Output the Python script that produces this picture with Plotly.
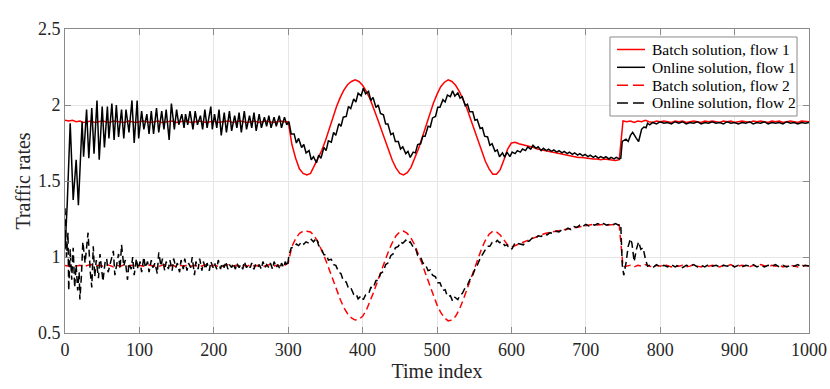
import plotly.graph_objects as go

# ---------------- data ----------------
time_batch = list(range(0, 1001, 5))

batch_flow1 = [
    # 0 - 295
    1.90, 1.895, 1.90, 1.89, 1.895, 1.885, 1.89, 1.895, 1.885, 1.89,
    1.895, 1.89, 1.885, 1.895, 1.89, 1.89, 1.885, 1.895, 1.89, 1.885,
    1.89, 1.895, 1.89, 1.885, 1.89, 1.895, 1.885, 1.89, 1.89, 1.895,
    1.885, 1.89, 1.895, 1.89, 1.885, 1.89, 1.895, 1.89, 1.885, 1.89,
    1.895, 1.885, 1.89, 1.89, 1.895, 1.885, 1.89, 1.895, 1.89, 1.885,
    1.89, 1.895, 1.885, 1.89, 1.895, 1.89, 1.885, 1.89, 1.895, 1.89,
    # 300 - 600
    1.89, 1.74, 1.65, 1.58, 1.55, 1.54, 1.55, 1.60, 1.645, 1.70,
    1.765, 1.84, 1.92, 1.99, 2.05, 2.10, 2.135, 2.155, 2.165, 2.155,
    2.13, 2.09, 2.04, 1.98, 1.91, 1.84, 1.77, 1.70, 1.635, 1.585,
    1.55, 1.54, 1.555, 1.59, 1.645, 1.71, 1.785, 1.86, 1.94, 2.01,
    2.07, 2.12, 2.15, 2.165, 2.155, 2.13, 2.09, 2.04, 1.98, 1.91,
    1.84, 1.765, 1.695, 1.63, 1.58, 1.545, 1.545, 1.575, 1.64, 1.71,
    1.75,
    # 605 - 745
    1.755, 1.745, 1.74, 1.735, 1.725, 1.72, 1.71, 1.705, 1.70, 1.69,
    1.685, 1.68, 1.675, 1.67, 1.67, 1.665, 1.66, 1.655, 1.655, 1.65,
    1.65, 1.645, 1.645, 1.64, 1.645, 1.64, 1.64, 1.635, 1.64,
    # 750 - 1000
    1.895, 1.89, 1.895, 1.885, 1.895, 1.89, 1.90, 1.89, 1.885, 1.895,
    1.89, 1.895, 1.89, 1.885, 1.895, 1.89, 1.895, 1.885, 1.89, 1.895,
    1.89, 1.885, 1.895, 1.89, 1.895, 1.89, 1.885, 1.895, 1.89, 1.895,
    1.885, 1.89, 1.895, 1.89, 1.885, 1.895, 1.89, 1.895, 1.89, 1.885,
    1.895, 1.89, 1.895, 1.885, 1.89, 1.895, 1.89, 1.885, 1.895, 1.89,
    1.89,
]

batch_flow2 = [
    # 0 - 295
    0.945, 0.94, 0.95, 0.94, 0.945, 0.935, 0.945, 0.95, 0.94, 0.945,
    0.94, 0.95, 0.945, 0.935, 0.945, 0.94, 0.95, 0.94, 0.945, 0.935,
    0.945, 0.94, 0.95, 0.945, 0.94, 0.935, 0.945, 0.95, 0.94, 0.945,
    0.935, 0.945, 0.94, 0.95, 0.94, 0.945, 0.935, 0.945, 0.95, 0.94,
    0.945, 0.94, 0.935, 0.945, 0.95, 0.94, 0.945, 0.935, 0.945, 0.94,
    0.95, 0.94, 0.945, 0.935, 0.945, 0.95, 0.94, 0.945, 0.94, 0.945,
    # 300 - 600
    0.96, 1.07, 1.12, 1.155, 1.17, 1.17, 1.165, 1.14, 1.10, 1.045,
    0.985, 0.92, 0.85, 0.78, 0.72, 0.665, 0.625, 0.60, 0.585, 0.59,
    0.61, 0.65, 0.705, 0.77, 0.84, 0.91, 0.98, 1.04, 1.095, 1.14,
    1.165, 1.17, 1.155, 1.125, 1.08, 1.02, 0.955, 0.885, 0.815, 0.745,
    0.685, 0.635, 0.60, 0.58, 0.585, 0.61, 0.655, 0.715, 0.785, 0.855,
    0.925, 0.995, 1.055, 1.11, 1.15, 1.17, 1.165, 1.145, 1.115, 1.08,
    1.065,
    # 605 - 745
    1.075, 1.09, 1.10, 1.11, 1.12, 1.13, 1.14, 1.15, 1.155, 1.16,
    1.165, 1.17, 1.175, 1.18, 1.185, 1.19, 1.195, 1.20, 1.205, 1.21,
    1.21, 1.215, 1.21, 1.215, 1.215, 1.21, 1.215, 1.215, 1.21,
    # 750 - 1000
    0.935, 0.94, 0.945, 0.935, 0.945, 0.94, 0.95, 0.94, 0.935, 0.945,
    0.94, 0.95, 0.94, 0.935, 0.945, 0.94, 0.945, 0.935, 0.94, 0.95,
    0.94, 0.935, 0.945, 0.94, 0.945, 0.94, 0.935, 0.945, 0.94, 0.95,
    0.935, 0.94, 0.945, 0.94, 0.935, 0.945, 0.94, 0.95, 0.94, 0.935,
    0.945, 0.94, 0.945, 0.935, 0.94, 0.945, 0.94, 0.935, 0.945, 0.94,
    0.94,
]

online_flow1 = [
    (0, 1.05), (3, 1.35), (7, 1.88), (11, 1.375), (15, 1.64), (18, 1.34), (23, 1.89),
    (25, 1.66), (29, 1.97), (32, 1.65), (36, 1.98), (39, 1.68), (43, 2.03), (46, 1.64),
    (50, 1.99), (53, 1.72), (57, 1.99), (59, 1.78), (63, 2.01), (66, 1.77), (69, 2.00),
    (72, 1.79), (76, 1.97), (79, 1.78), (82, 1.97), (86, 1.82), (90, 2.03), (93, 1.75),
    (97, 2.03), (99, 1.78), (103, 1.96), (106, 1.84), (110, 1.94), (113, 1.81), (116, 1.96),
    (119, 1.81), (123, 1.98), (126, 1.82), (130, 1.96), (133, 1.84), (136, 1.97), (140, 1.77),
    (143, 2.01), (147, 1.84), (150, 1.97), (153, 1.87), (157, 1.94), (160, 1.85), (162, 1.94),
    (165, 1.87), (168, 1.96), (172, 1.84), (175, 1.96), (178, 1.87), (182, 1.93), (185, 1.84),
    (188, 1.97), (191, 1.85), (196, 1.99), (198, 1.84), (201, 1.94), (204, 1.85),
    (207, 1.97), (210, 1.80), (214, 1.95), (217, 1.82), (221, 1.96), (224, 1.83), (228, 1.93),
    (231, 1.85), (234, 1.95), (237, 1.82), (241, 1.96), (244, 1.84), (248, 1.93), (251, 1.85),
    (254, 1.95), (257, 1.83), (261, 1.94), (264, 1.85), (268, 1.92), (271, 1.86), (274, 1.93),
    (277, 1.85), (281, 1.92), (284, 1.86), (288, 1.93), (291, 1.85), (295, 1.92), (298, 1.87),
    (301, 1.89), (304, 1.81), (308, 1.81), (311, 1.75), (314, 1.78), (318, 1.72), (321, 1.74),
    (324, 1.685), (328, 1.70), (331, 1.64), (334, 1.66), (338, 1.62), (341, 1.67), (344, 1.65),
    (348, 1.72), (351, 1.70), (354, 1.765), (358, 1.756), (361, 1.82), (364, 1.80), (368, 1.876),
    (371, 1.86), (374, 1.92), (378, 1.925), (381, 1.99), (384, 1.976), (388, 2.04), (391, 2.02),
    (394, 2.078), (398, 2.06), (401, 2.11), (404, 2.074), (408, 2.09), (411, 2.03), (414, 2.05),
    (418, 1.983), (421, 2.00), (424, 1.945), (428, 1.935), (431, 1.875), (434, 1.875), (438, 1.805),
    (441, 1.815), (444, 1.76), (448, 1.76), (451, 1.71), (454, 1.725), (458, 1.68), (461, 1.695),
    (464, 1.655), (468, 1.69), (471, 1.685), (474, 1.74), (478, 1.745), (481, 1.795), (484, 1.795),
    (488, 1.86), (491, 1.855), (494, 1.915), (498, 1.925), (501, 1.985), (504, 1.985), (508, 2.035),
    (511, 2.02), (514, 2.065), (518, 2.055), (521, 2.093), (524, 2.058), (528, 2.08), (531, 2.045),
    (534, 2.055), (538, 1.995), (541, 2.005), (544, 1.955), (548, 1.955), (551, 1.90), (554, 1.905),
    (558, 1.845), (561, 1.85), (564, 1.795), (568, 1.79), (571, 1.735), (574, 1.745), (578, 1.695),
    (581, 1.705), (584, 1.66), (588, 1.685), (591, 1.657), (594, 1.69), (598, 1.66),
    (601, 1.69), (605, 1.68), (608, 1.70), (612, 1.69), (615, 1.71), (619, 1.70), (622, 1.725),
    (626, 1.71), (629, 1.735), (633, 1.715), (636, 1.725), (640, 1.70), (643, 1.715), (647, 1.70),
    (650, 1.71), (654, 1.695), (657, 1.705), (661, 1.69), (664, 1.70), (668, 1.685), (671, 1.695),
    (675, 1.68), (678, 1.69), (682, 1.675), (685, 1.685), (689, 1.67), (692, 1.68), (696, 1.665),
    (699, 1.675), (703, 1.66), (706, 1.67), (710, 1.655), (713, 1.665), (717, 1.65), (720, 1.66),
    (724, 1.65), (727, 1.66), (731, 1.645), (734, 1.655), (738, 1.645), (741, 1.655), (745, 1.645),
    (747, 1.65), (749, 1.76), (754, 1.775), (757, 1.76), (760, 1.80), (763, 1.82), (768, 1.78),
    (771, 1.76), (775, 1.84), (778, 1.855), (781, 1.85), (783, 1.88), (786, 1.87), (790, 1.885),
    (795, 1.875), (800, 1.89), (805, 1.88), (810, 1.885), (815, 1.875), (820, 1.89), (825, 1.88),
    (830, 1.89), (835, 1.875), (840, 1.885), (845, 1.88), (850, 1.89), (855, 1.875), (860, 1.885),
    (865, 1.88), (870, 1.89), (875, 1.88), (880, 1.885), (885, 1.875), (890, 1.89), (895, 1.88),
    (900, 1.885), (905, 1.875), (910, 1.885), (915, 1.88), (920, 1.89), (925, 1.875), (930, 1.885),
    (935, 1.88), (940, 1.89), (945, 1.875), (950, 1.885), (955, 1.88), (960, 1.885), (965, 1.875),
    (970, 1.89), (975, 1.88), (980, 1.885), (985, 1.875), (990, 1.885), (995, 1.88), (1000, 1.885),
]

online_flow2 = [
    (0, 1.32), (2, 1.00), (4, 1.16), (5, 0.78), (7, 1.05), (9, 0.85), (11, 1.06), (13, 0.80),
    (15, 0.95), (17, 0.78), (19, 0.90), (20, 0.72), (22, 0.87), (24, 1.10), (27, 0.96), (29, 1.07),
    (31, 1.16), (34, 0.90), (36, 0.80), (38, 1.07), (40, 0.87), (42, 0.98), (45, 0.86), (47, 1.02),
    (49, 0.90), (51, 0.84), (54, 0.97), (56, 0.99), (58, 0.90), (61, 0.97), (63, 1.00), (65, 1.04),
    (67, 0.88), (70, 0.98), (72, 1.02), (74, 0.92), (76, 1.08), (79, 0.94), (81, 0.98), (84, 0.85),
    (86, 0.96), (89, 0.92), (91, 1.00), (93, 0.88), (96, 0.99), (98, 0.92), (101, 0.97), (103, 0.90),
    (106, 1.00), (108, 0.93), (111, 0.97), (113, 0.90), (116, 0.98), (118, 0.93), (121, 0.96),
    (124, 0.89), (126, 1.03), (129, 0.94), (131, 0.99), (134, 0.91), (136, 0.97), (139, 0.92),
    (141, 0.98), (144, 0.91), (146, 0.99), (149, 0.93), (151, 0.96), (154, 0.90), (156, 0.98),
    (159, 0.92), (161, 0.99), (164, 0.91), (166, 0.96), (169, 0.93), (171, 1.00), (174, 0.88),
    (176, 0.97), (179, 0.92), (181, 0.99), (184, 0.91), (186, 0.97), (189, 0.92), (191, 0.96),
    (194, 0.91), (196, 0.97), (199, 0.93), (201, 0.96), (204, 0.92), (206, 0.98), (209, 0.92),
    (211, 0.96), (214, 0.93), (216, 0.97), (219, 0.92), (221, 0.95), (224, 0.93), (226, 0.96),
    (229, 0.92), (231, 0.96), (234, 0.93), (236, 0.95), (239, 0.92), (241, 0.97), (244, 0.93),
    (246, 0.95), (249, 0.93), (251, 0.96), (254, 0.92), (256, 0.95), (259, 0.93), (261, 0.95),
    (264, 0.92), (266, 0.97), (269, 0.93), (271, 0.95), (274, 0.93), (276, 0.96), (279, 0.92),
    (281, 0.97), (284, 0.93), (286, 0.95), (289, 0.92), (291, 0.96), (294, 0.93), (296, 0.97),
    (299, 0.94),
    (301, 1.01), (304, 1.06), (308, 1.065), (311, 1.085), (314, 1.075), (318, 1.10), (321, 1.085),
    (324, 1.10), (328, 1.09), (331, 1.115), (334, 1.10), (338, 1.125), (341, 1.075), (344, 1.06),
    (348, 1.015), (351, 1.015), (354, 0.98), (358, 0.985), (361, 0.95), (364, 0.945), (368, 0.90),
    (371, 0.89), (374, 0.845), (378, 0.835), (381, 0.795), (384, 0.80), (388, 0.755), (391, 0.76),
    (394, 0.725), (398, 0.745), (401, 0.72), (404, 0.75), (408, 0.755), (411, 0.80), (414, 0.795),
    (418, 0.845), (421, 0.845), (424, 0.89), (428, 0.905), (431, 0.95), (434, 0.96), (438, 1.01),
    (441, 1.02), (444, 1.06), (448, 1.07), (451, 1.10), (454, 1.09), (458, 1.11), (461, 1.09),
    (464, 1.10), (468, 1.065), (471, 1.06), (474, 1.01), (478, 1.00), (481, 0.96), (484, 0.955),
    (488, 0.91), (491, 0.915), (494, 0.88), (498, 0.87), (501, 0.83), (504, 0.83), (508, 0.78),
    (511, 0.785), (514, 0.74), (518, 0.745), (521, 0.71), (524, 0.735), (528, 0.72), (531, 0.75),
    (534, 0.76), (538, 0.80), (541, 0.815), (544, 0.85), (548, 0.88), (551, 0.92), (554, 0.945),
    (558, 0.99), (561, 1.02), (564, 1.04), (568, 1.07), (571, 1.07), (574, 1.095), (578, 1.09),
    (581, 1.11), (584, 1.095), (588, 1.10), (591, 1.075), (594, 1.08), (598, 1.05), (601, 1.055),
    (605, 1.095), (608, 1.09), (612, 1.085), (616, 1.08), (620, 1.10), (624, 1.105), (628, 1.125),
    (632, 1.12), (636, 1.14), (640, 1.135), (644, 1.15), (648, 1.145), (652, 1.16), (656, 1.155),
    (660, 1.17), (664, 1.165), (668, 1.18), (672, 1.175), (676, 1.19), (680, 1.18), (684, 1.20),
    (688, 1.195), (692, 1.21), (696, 1.20), (700, 1.215), (704, 1.205), (708, 1.215), (712, 1.21),
    (716, 1.22), (720, 1.21), (724, 1.22), (728, 1.21), (732, 1.215), (736, 1.21), (740, 1.22),
    (744, 1.21), (747, 1.215), (749, 0.95), (751, 0.88), (754, 0.96), (757, 1.07), (760, 1.12),
    (762, 1.09), (765, 0.97), (768, 1.05), (771, 1.10), (774, 1.05), (777, 1.06), (780, 0.99),
    (783, 0.94), (785, 0.945), (790, 0.93), (795, 0.95), (800, 0.935), (805, 0.945), (810, 0.935),
    (815, 0.95), (820, 0.935), (825, 0.945), (830, 0.93), (835, 0.945), (840, 0.94), (845, 0.95),
    (850, 0.935), (855, 0.945), (860, 0.935), (865, 0.95), (870, 0.94), (875, 0.945), (880, 0.935),
    (885, 0.945), (890, 0.94), (895, 0.95), (900, 0.935), (905, 0.945), (910, 0.935), (915, 0.945),
    (920, 0.94), (925, 0.95), (930, 0.935), (935, 0.945), (940, 0.935), (945, 0.945), (950, 0.94),
    (955, 0.95), (960, 0.935), (965, 0.945), (970, 0.935), (975, 0.945), (980, 0.94), (985, 0.95),
    (990, 0.935), (995, 0.945), (1000, 0.94),
]

x_tick_values = [0, 100, 200, 300, 400, 500, 600, 700, 800, 900, 1000]
y_tick_values = [0.5, 1.0, 1.5, 2.0, 2.5]
y_tick_labels = ["0.5", "1", "1.5", "2", "2.5"]

series_names = ["Batch solution, flow 1", "Online solution, flow 1",
                "Batch solution, flow 2", "Online solution, flow 2"]
series_colors = ["#ff0000", "#000000", "#ff0000", "#000000"]
series_dashed = [False, False, True, True]

assert len(batch_flow1) == len(time_batch)
assert len(batch_flow2) == len(time_batch)

# ---------------- figure ----------------
AXIS_GREY = "#8a8a8a"
FONT = "Liberation Serif"
TRACE_DASH = "7px,4px"

series_xy = [
    (time_batch, batch_flow1),
    ([p[0] for p in online_flow1], [p[1] for p in online_flow1]),
    (time_batch, batch_flow2),
    ([p[0] for p in online_flow2], [p[1] for p in online_flow2]),
]

fig = go.Figure()
for (xs, ys), name, color, dashed in zip(series_xy, series_names, series_colors, series_dashed):
    fig.add_trace(go.Scatter(
        x=xs, y=ys, mode="lines", name=name, showlegend=False,
        line=dict(color=color, width=1.5, dash=TRACE_DASH if dashed else "solid")))

# MATLAB-style legend box (drawn with shapes/annotations so that it is compact)
box_x0, box_x1, box_y0, box_y1 = 0.7325, 0.9839, 0.7138, 0.9737
row_y = [0.9326, 0.8740, 0.8151, 0.7566]
sample_x0, sample_x1, text_x = 0.7419, 0.7796, 0.7863

shapes = [dict(type="rect", xref="paper", yref="paper", x0=box_x0, x1=box_x1,
               y0=box_y0, y1=box_y1, fillcolor="white",
               line=dict(color=AXIS_GREY, width=1), layer="above")]
annotations = []
for ry, name, color, dashed in zip(row_y, series_names, series_colors, series_dashed):
    shapes.append(dict(type="line", xref="paper", yref="paper", x0=sample_x0, x1=sample_x1,
                       y0=ry, y1=ry, layer="above",
                       line=dict(color=color, width=1.5, dash="11px,5px" if dashed else "solid")))
    annotations.append(dict(xref="paper", yref="paper", x=text_x, y=ry, text=name,
                            showarrow=False, xanchor="left", yanchor="middle",
                            font=dict(family=FONT, size=15.5, color="#000000")))

fig.update_layout(
    width=830, height=389,
    margin=dict(l=65, r=21, t=29, b=56, autoexpand=False),
    paper_bgcolor="white", plot_bgcolor="white",
    font=dict(family=FONT, size=18, color="#262626"),
    showlegend=False,
    shapes=shapes,
    annotations=annotations,
)
fig.update_xaxes(range=[0, 1000], tickvals=x_tick_values, ticks="inside", ticklen=6,
                 tickcolor=AXIS_GREY, showline=True, linecolor=AXIS_GREY, linewidth=1,
                 mirror="ticks", showgrid=True, gridcolor="#e6e6e6", gridwidth=1,
                 zeroline=False, automargin=False, tickfont=dict(size=18, color="#262626"),
                 title=dict(text="Time index", font=dict(size=20, color="#262626"), standoff=4))
fig.update_yaxes(range=[0.5, 2.5], tickvals=y_tick_values, ticktext=y_tick_labels,
                 ticks="inside", ticklen=6, tickcolor=AXIS_GREY, showline=True,
                 linecolor=AXIS_GREY, linewidth=1, mirror="ticks", showgrid=True,
                 gridcolor="#e6e6e6", gridwidth=1, zeroline=False, automargin=False,
                 tickfont=dict(size=18, color="#262626"),
                 title=dict(text="Traffic rates", font=dict(size=20, color="#262626"), standoff=1))

fig.write_html("out.html", config={"displayModeBar": False},
               post_script="document.body.style.margin='0px';")
